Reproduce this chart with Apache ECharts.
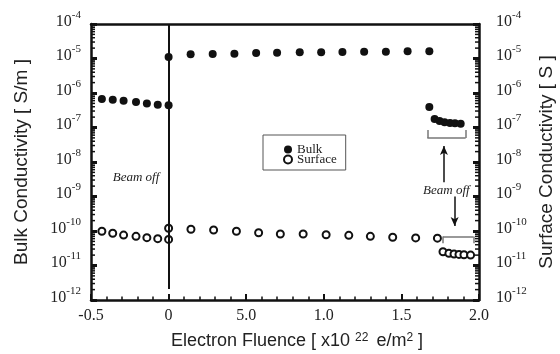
<!DOCTYPE html>
<html>
<head>
<meta charset="utf-8">
<script src="https://cdn.jsdelivr.net/npm/echarts@6/dist/echarts.min.js"></script>
<style>
  html, body { margin: 0; padding: 0; background: #fff; }
  #chart { width: 560px; height: 354px; }
</style>
</head>
<body>
<div id="chart"></div>
<script>
// fluence in units of 1e22 e/m^2
var bulkX = [-0.43, -0.36, -0.29, -0.21, -0.14, -0.07, 0,
  0, 0.142, 0.284, 0.424, 0.564, 0.699, 0.845, 0.983, 1.12, 1.26, 1.40, 1.54, 1.68,
  1.68, 1.714, 1.746, 1.778, 1.813, 1.845, 1.882];
var bulkY = [6.7e-7, 6.4e-7, 6.0e-7, 5.5e-7, 5.0e-7, 4.6e-7, 4.4e-7,
  1.1e-5, 1.32e-5, 1.35e-5, 1.38e-5, 1.44e-5, 1.46e-5, 1.51e-5, 1.51e-5, 1.54e-5, 1.58e-5, 1.58e-5, 1.62e-5, 1.62e-5,
  3.9e-7, 1.76e-7, 1.55e-7, 1.41e-7, 1.35e-7, 1.32e-7, 1.29e-7];
var surfX = [-0.43, -0.36, -0.29, -0.21, -0.14, -0.07, 0, 0,
  0.144, 0.29, 0.437, 0.58, 0.72, 0.867, 1.015, 1.161, 1.30, 1.444, 1.592, 1.732,
  1.768, 1.806, 1.839, 1.871, 1.903, 1.946];
var surfY = [9.8e-11, 8.6e-11, 7.6e-11, 7.0e-11, 6.4e-11, 6.0e-11, 1.2e-10, 5.7e-11,
  1.12e-10, 1.07e-10, 9.8e-11, 8.9e-11, 8.2e-11, 8.2e-11, 7.8e-11, 7.5e-11, 7.0e-11, 6.6e-11, 6.3e-11, 6.2e-11,
  2.5e-11, 2.25e-11, 2.15e-11, 2.1e-11, 2.05e-11, 2.0e-11];
var xTickLabels = ['-0.5', '0', '5.0', '1.0', '1.5', '2.0'];
var decadeExps = [-12, -11, -10, -9, -8, -7, -6, -5];

var serif = '"Liberation Serif", "DejaVu Serif", serif';
var sans = '"Liberation Sans", Arial, sans-serif';

function pairs(xs, ys) {
  return xs.map(function (x, i) { return [x, ys[i]]; });
}

// log minor ticks 2..9 x 10^n, placed on both y axes by a custom series
var minorVals = [];
decadeExps.forEach(function (e) {
  for (var k = 2; k <= 9; k++) minorVals.push([-0.5, k * Math.pow(10, e)]);
});

var expRich = {
  b: { fontFamily: serif, fontSize: 16, color: '#222', lineHeight: 24 },
  s: { fontFamily: serif, fontSize: 11, color: '#222', verticalAlign: 'top' }
};
function expLabel(v) {
  return '{b|10}{s|' + Math.round(Math.log10(v)) + '}';
}

function yAxisCfg(pos, name) {
  return {
    type: 'log',
    logBase: 10,
    min: 1e-12,
    max: 1e-4,
    position: pos,
    name: name,
    nameLocation: 'middle',
    nameGap: pos === 'left' ? 60 : 58,
    nameRotate: 90,
    nameTextStyle: { fontFamily: sans, fontSize: 19, color: '#222' },
    axisLine: { show: true, onZero: false, lineStyle: { color: '#111', width: 2.5 } },
    axisTick: { show: true, inside: true, length: 6, lineStyle: { color: '#111', width: 3 } },
    axisLabel: {
      margin: pos === 'left' ? 10 : 17,
      padding: [0, 0, 5, 0],
      formatter: expLabel,
      rich: expRich
    },
    splitLine: { show: false },
    minorSplitLine: { show: false }
  };
}

var option = {
  animation: false,
  backgroundColor: '#fff',
  grid: { left: 91, right: 81, top: 24, bottom: 54, outerBoundsMode: 'none', containLabel: false },
  legend: {
    orient: 'vertical',
    left: 263,
    top: 135,
    padding: [8, 9, 4, 20],
    itemWidth: 8,
    itemHeight: 8,
    itemGap: -3,
    itemTextGap: 14,
    borderColor: '#555',
    borderWidth: 1,
    textStyle: { fontFamily: serif, fontSize: 13, color: '#222' },
    data: [
      { name: 'Bulk', icon: 'circle' },
      { name: 'Surface', icon: 'emptyCircle' }
    ]
  },
  xAxis: [{
    type: 'value',
    min: -0.5,
    max: 2.0,
    interval: 0.5,
    name: 'Electron Fluence [ x10 {sup|22} e/m{sup2|2} ]',
    nameLocation: 'middle',
    nameGap: 32,
    nameTextStyle: {
      fontFamily: sans, fontSize: 18, color: '#222',
      padding: [0, 0, 0, 24],
      rich: {
        sup: { fontFamily: sans, fontSize: 12, color: '#222', verticalAlign: 'top', padding: [0, 3, 0, 0] },
        sup2: { fontFamily: sans, fontSize: 12, color: '#222', verticalAlign: 'top' }
      }
    },
    axisLine: { show: true, onZero: false, lineStyle: { color: '#111', width: 2.5 } },
    axisTick: { show: true, inside: true, length: 6, lineStyle: { color: '#111', width: 2 } },
    minorTick: { show: true, splitNumber: 5, length: 3.5, lineStyle: { color: '#111', width: 1.5 } },
    axisLabel: {
      margin: 8,
      fontFamily: serif, fontSize: 16, color: '#222',
      formatter: function (v) {
        return xTickLabels[Math.round((v + 0.5) / 0.5)];
      }
    },
    splitLine: { show: false }
  }, {
    type: 'value',
    min: -0.5,
    max: 2.0,
    position: 'top',
    axisLine: { show: true, onZero: false, lineStyle: { color: '#111', width: 2.5 } },
    axisTick: { show: false },
    axisLabel: { show: false },
    splitLine: { show: false }
  }],
  yAxis: [
    yAxisCfg('left', 'Bulk Conductivity [ S/m ]'),
    yAxisCfg('right', 'Surface Conductivity [ S ]')
  ],
  series: [{
    name: 'Bulk',
    type: 'scatter',
    yAxisIndex: 0,
    symbol: 'circle',
    symbolSize: 8,
    itemStyle: { color: '#111', opacity: 1 },
    data: pairs(bulkX, bulkY),
    markLine: {
      silent: true,
      symbol: 'none',
      label: { show: false },
      lineStyle: { color: '#111', width: 2, type: 'solid' },
      data: [
        [{ coord: [0, 1e-4] }, { coord: [0, 2.1e-12] }]
      ]
    },
    z: 3
  }, {
    name: 'Surface',
    type: 'scatter',
    yAxisIndex: 1,
    symbol: 'emptyCircle',
    symbolSize: 7,
    itemStyle: { color: '#111', borderColor: '#111', borderWidth: 1.3, opacity: 1 },
    data: pairs(surfX, surfY),
    z: 3
  }, {
    name: 'minorTicks',
    type: 'custom',
    yAxisIndex: 0,
    silent: true,
    clip: false,
    encode: { x: 0, y: 1 },
    data: minorVals,
    renderItem: function (params, api) {
      var l = api.coord([-0.5, api.value(1)]);
      var r = api.coord([2.0, api.value(1)]);
      var st = { stroke: '#111', lineWidth: 1.5 };
      return {
        type: 'group',
        children: [
          { type: 'line', shape: { x1: l[0], y1: l[1], x2: l[0] + 4, y2: l[1] }, style: st },
          { type: 'line', shape: { x1: r[0] - 4, y1: r[1], x2: r[0], y2: r[1] }, style: st }
        ]
      };
    },
    z: 2
  }, {
    // bracket + arrow annotations (drawn in data coordinates)
    name: 'notes',
    type: 'line',
    yAxisIndex: 0,
    data: [],
    markLine: {
      silent: true,
      label: { show: false },
      symbol: 'none',
      lineStyle: { color: '#777', width: 1.5, type: 'solid' },
      data: [
        [{ coord: [1.667, 8.5e-8] }, { coord: [1.667, 5e-8] }],
        [{ coord: [1.667, 5e-8] }, { coord: [1.914, 5e-8] }],
        [{ coord: [1.914, 5e-8] }, { coord: [1.914, 8.5e-8] }],
        [{ coord: [1.768, 4.4e-11] }, { coord: [1.768, 6.9e-11] }],
        [{ coord: [1.768, 6.9e-11] }, { coord: [1.964, 6.9e-11] }],
        [{ coord: [1.964, 6.9e-11] }, { coord: [1.964, 4.4e-11] }],
        [{ coord: [1.774, 2.6e-9], symbol: 'none' },
         { coord: [1.774, 2.9e-8], symbol: 'arrow', symbolSize: [6, 9], lineStyle: { color: '#111', width: 1.5 } }],
        [{ coord: [1.843, 1.0e-9], symbol: 'none' },
         { coord: [1.843, 1.4e-10], symbol: 'arrow', symbolSize: [6, 9], lineStyle: { color: '#111', width: 1.5 } }]
      ]
    },
    markPoint: {
      silent: true,
      symbol: 'circle',
      symbolSize: 1,
      itemStyle: { color: 'rgba(0,0,0,0)' },
      label: {
        show: true,
        position: 'inside',
        fontFamily: serif, fontStyle: 'italic', fontSize: 13, color: '#222',
        formatter: 'Beam off'
      },
      data: [
        { name: 'b1', coord: [-0.21, 3.5e-9] },
        { name: 'b2', coord: [1.79, 1.5e-9] }
      ]
    }
  }]
};

var myChart = echarts.init(document.getElementById('chart'), null, { renderer: 'canvas' });
myChart.setOption(option);
window.addEventListener('resize', function () {
  myChart.resize();
});
</script>
</body>
</html>
